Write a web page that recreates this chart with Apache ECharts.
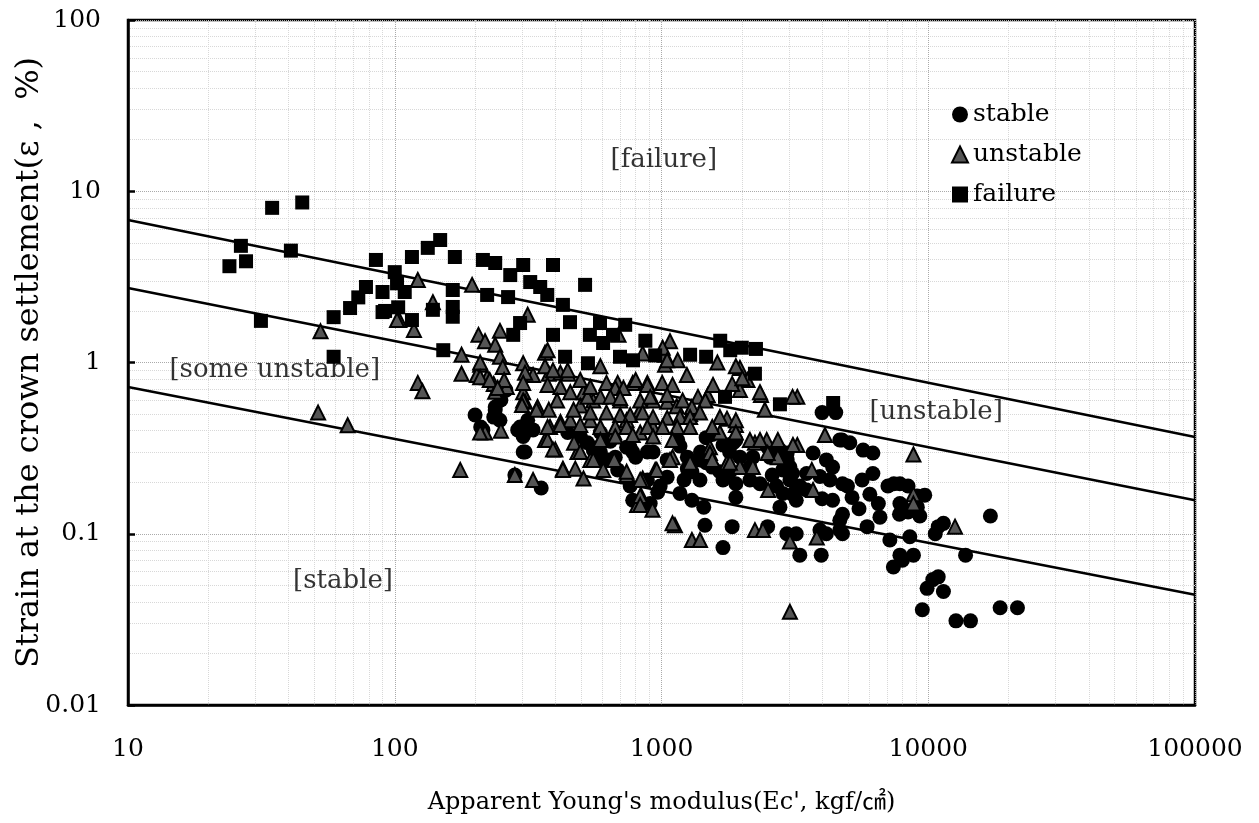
<!DOCTYPE html>
<html>
<head>
<meta charset="utf-8">
<script src="https://cdn.jsdelivr.net/npm/echarts@6/dist/echarts.min.js"></script>
<style>html,body{margin:0;padding:0;background:#fff;}#c{width:1259px;height:823px;}</style>
</head>
<body>
<div id="c"></div>
<script>
// ---- data ----
var failure = [
[24,3.65],[26.5,4.8],[27.7,3.9],[31.5,1.75],[34.7,8.0],[40.8,4.5],[45,8.6],[59,1.08],[59,1.84],[68,2.08],
[73,2.4],[78,2.76],[85,3.97],[90,1.97],[100,3.37],[116,4.13],[133,4.67],[148,5.19],[168,4.13],[102,2.9],
[90,2.58],[109,2.58],[92,2.0],[103,2.1],[116,1.77],[139,2.03],[165,2.65],[165,2.11],[165,1.85],[214,3.97],
[238,3.81],[271,3.24],[303,3.71],[392,3.71],[322,2.95],[351,2.76],[373,2.48],[222,2.48],[266,2.41],[517,2.84],
[427,2.17],[454,1.72],[295,1.70],[278,1.45],[392,1.45],[539,1.45],[588,1.70],[604,1.30],[658,1.45],[435,1.08],
[152,1.18],[699,1.08],[782,1.03],[530,0.99],[1660,1.34],[1280,1.11],[1470,1.08],[1810,1.18],[2000,1.22],[2260,1.2],
[2240,0.86],[1730,0.63],[2780,0.57],[4400,0.58],[870,1.34],[947,1.1],[731,1.66]
];
var unstable = [
[52.7,1.52],[51.6,0.51],[66.6,0.43],[104,1.77],[122,0.76],[127,0.68],[176,0.236],[282,0.22],[330,0.206],[427,0.24],
[475,0.24],[510,0.21],[218,0.39],[250,0.40],[303,0.67],[308,0.59],[343,0.55],[366,0.353],[400,0.31],[122,3.03],
[195,2.84],[139,2.25],[102,1.77],[118,1.55],[178,1.11],[178,0.86],[206,1.45],[218,1.33],[248,1.53],[238,1.27],
[315,1.9],[248,1.08],[254,0.94],[209,0.97],[203,0.845],[222,0.82],[235,0.75],[263,0.72],[238,0.675],[303,0.60],
[340,0.53],[366,1.14],[303,0.99],[330,0.845],[378,0.86],[418,0.87],[447,0.86],[374,0.74],[418,0.72],[455,0.67],
[406,0.60],[378,0.53],[418,0.45],[455,0.46],[382,0.42],[374,0.353],[392,0.31],[484,0.30],[510,0.67],[496,0.56],
[541,0.46],[555,0.60],[590,0.95],[622,0.76],[685,0.76],[780,0.76],[850,1.13],[885,0.76],[700,0.60],[740,0.46],
[832,0.53],[930,0.60],[665,0.39],[832,0.39],[930,0.42],[541,0.27],[665,0.27],[740,0.22],[850,0.21],[840,0.166],
[810,0.147],[925,0.138],[690,1.45],[1076,1.33],[1031,1.11],[1150,1.03],[1031,0.97],[1245,0.845],[885,0.74],[1006,0.76],
[1100,0.74],[1050,0.59],[1140,0.555],[1280,0.50],[1370,0.63],[1490,0.645],[1560,0.74],[1620,1.0],[1968,0.93],[2100,0.79],
[1968,0.69],[2360,0.645],[2440,0.53],[1760,0.47],[1900,0.432],[1656,0.39],[1519,0.32],[2240,0.34],[2480,0.353],[2730,0.353],
[3230,0.63],[3230,0.33],[4100,0.377],[2730,0.28],[1760,0.26],[1968,0.245],[2200,0.245],[3660,0.236],[3700,0.18],[2510,0.18],
[1280,0.26],[1100,0.28],[947,0.236],[850,0.206],[1123,0.112],[1300,0.092],[1394,0.092],[2240,0.105],[2400,0.105],[3030,0.09],
[3820,0.095],[3030,0.035],[8800,0.29],[8800,0.17],[8800,0.15],[12600,0.11],
[671,0.71],[720,0.71],[528,0.63],[590,0.63],[643,0.63],[700,0.62],[832,0.60],[907,0.63],[1050,0.645],[1200,0.60],
[1300,0.55],[1460,0.60],[1840,0.75],[2340,0.67],[3100,0.63],[468,0.53],[541,0.51],[622,0.51],[700,0.494],[763,0.494],
[850,0.51],[930,0.48],[1050,0.475],[1173,0.48],[1280,0.48],[1394,0.51],[1656,0.48],[1900,0.46],[374,0.42],[418,0.432],
[496,0.432],[590,0.42],[671,0.42],[740,0.42],[885,0.42],[1010,0.42],[1145,0.42],[1280,0.42],[1550,0.42],[1900,0.39],
[2145,0.353],[2340,0.353],[470,0.34],[590,0.353],[671,0.37],[780,0.377],[930,0.37],[1100,0.353],[1519,0.296],[496,0.30],
[555,0.27],[740,0.23],[832,0.206],[960,0.236],[1076,0.27],[1550,0.27],[1805,0.26],[2500,0.296],[3110,0.33],[427,0.236],
[605,0.236],[832,0.166],[832,0.147],[1100,0.115],[374,1.18],[209,1.0],[209,0.82],[227,0.79],[257,0.79],[243,0.71],
[308,0.87],[303,0.76],[300,0.565],[209,0.39],[366,0.95],[392,0.90],[445,0.90],[496,0.79],[541,0.72],[800,0.79],
[1010,1.22],[1050,1.03],[1900,0.95],[2010,0.81]
];
var stable = [
[200,0.494],[210,0.42],[238,0.528],[250,0.604],[261,0.69],[289,0.404],[308,0.39],[308,0.30],[282,0.22],[354,0.185],
[565,0.317],[630,0.27],[685,0.236],[214,0.404],[238,0.55],[248,0.46],[295,0.42],[315,0.46],[303,0.37],[303,0.30],
[445,0.39],[496,0.37],[555,0.308],[590,0.30],[671,0.28],[780,0.30],[885,0.30],[763,0.19],[968,0.175],[235,0.48],
[330,0.404],[763,0.32],[930,0.30],[1050,0.27],[1173,0.325],[1250,0.28],[1300,0.23],[1394,0.27],[1550,0.245],[1805,0.23],
[1968,0.28],[2145,0.245],[2550,0.28],[2850,0.236],[3030,0.206],[3200,0.18],[2700,0.19],[2340,0.196],[1900,0.196],[1656,0.23],
[1394,0.206],[1215,0.206],[1050,0.214],[885,0.206],[1173,0.172],[1300,0.157],[780,0.157],[907,0.15],[1440,0.143],[1455,0.112],
[1840,0.11],[2500,0.11],[2950,0.10],[1700,0.083],[1470,0.26],[1770,0.33],[1900,0.353],[2780,0.308],[643,0.347],[590,0.39],
[989,0.19],[1700,0.206],[1900,0.163],[2145,0.206],[2780,0.143],[2960,0.27],[3100,0.225],[3300,0.19],[3200,0.157],[2850,0.172],
[3200,0.10],[3300,0.075],[3970,0.075],[3925,0.105],[4150,0.10],[4660,0.105],[4770,0.13],[4980,0.19],[4380,0.157],[5180,0.163],
[6040,0.17],[6590,0.125],[6200,0.225],[7060,0.19],[7430,0.196],[7830,0.15],[8400,0.134],[4660,0.353],[5080,0.34],[5700,0.308],
[6200,0.296],[4380,0.245],[3925,0.216],[3700,0.296],[3030,0.245],[3500,0.225],[4150,0.27],[4280,0.206],[4770,0.196],[5650,0.206],
[7400,0.064],[8800,0.075],[8530,0.096],[7180,0.092],[4000,0.51],[4500,0.51],[4750,0.353],[17100,0.127],[8000,0.07],[10400,0.054],
[10900,0.056],[9900,0.048],[11400,0.046],[9500,0.036],[12700,0.031],[14400,0.031],[18600,0.037],[21600,0.037],[13800,0.075],[10900,0.11],
[11400,0.115],[8400,0.19],[9100,0.166],[8000,0.143],[9100,0.143],[7800,0.13],[9300,0.127],[5900,0.11],[4770,0.10],[4660,0.12],
[7830,0.196],[9700,0.168],[10620,0.10],[7830,0.075],[1150,0.353],[1470,0.364],[1860,0.34],[2960,0.296],
[740,0.32],[800,0.28],[1550,0.38],[1700,0.33],[1800,0.30],[2500,0.32],[2900,0.24],[3100,0.17],[528,0.34],[590,0.27],
[1250,0.24],[1400,0.30],[2200,0.28],[2600,0.22],[3500,0.18],[4000,0.16],[5500,0.14],[6500,0.15]
];
var boundaryFailure = [[10,6.8],[100000,0.367]];
var boundaryUnstable = [[10,2.72],[100000,0.157]];
var boundaryStable = [[10,0.72],[100000,0.044]];
var regionLabels = [
  {name:'[failure]', value:[1020,15.2]},
  {name:'[some unstable]', value:[35.5,0.9]},
  {name:'[unstable]', value:[10700,0.51]},
  {name:'[stable]', value:[64,0.053]}
];
var xTicks = [10,100,1000,10000,100000];
var yTicks = [0.01,0.1,1,10,100];

var FONT = 'DejaVu Serif';
function fmt(v){ return String(+(+v).toPrecision(6)); }
var chart = echarts.init(document.getElementById('c'));
var lineStyle = {color:'#000', width:2.5};
chart.setOption({
  backgroundColor:'#fff',
  animation:false,
  grid:{left:128, right:64, top:20, bottom:118, outerBoundsMode:'none', containLabel:false,
        show:true, borderColor:'#000', borderWidth:2.5, backgroundColor:'transparent'},
  legend:{
    orient:'vertical', left:946, top:97, itemWidth:16, itemHeight:16, itemGap:15,
    textStyle:{fontFamily:FONT, fontSize:25, color:'#000'},
    data:[
      {name:'stable', icon:'circle', itemStyle:{color:'#000'}},
      {name:'unstable', icon:'triangle', itemStyle:{color:'#555', borderColor:'#000', borderWidth:2}},
      {name:'failure', icon:'rect', itemStyle:{color:'#000'}}
    ]
  },
  xAxis:{
    type:'log', min:xTicks[0], max:xTicks[xTicks.length-1], logBase:10,
    name:"Apparent Young's modulus(Ec', kgf/\u33A0)", nameLocation:'middle', nameGap:86, nameMoveOverlap:false,
    nameTextStyle:{fontFamily:FONT+', Noto Sans CJK KR', fontSize:24, color:'#000'},
    axisLine:{show:true, lineStyle:{color:'#000', width:2.5}},
    axisTick:{show:false},
    axisLabel:{fontFamily:FONT, fontSize:25, color:'#000', margin:32, formatter:fmt},
    splitLine:{show:true, lineStyle:{color:'#aaa', type:'dotted', width:1}},
    minorTick:{show:false, splitNumber:9},
    minorSplitLine:{show:true, lineStyle:{color:'#d8d8d8', type:'dotted', width:1}}
  },
  yAxis:{
    type:'log', min:yTicks[0], max:yTicks[yTicks.length-1], logBase:10,
    name:'Strain at the crown settlement(\u03B5 ,  %)', nameLocation:'middle', nameGap:82, nameMoveOverlap:false,
    nameTextStyle:{fontFamily:FONT, fontSize:32, color:'#000'},
    axisLine:{show:true, lineStyle:{color:'#000', width:2.5}},
    axisTick:{show:true, inside:true, length:7, lineStyle:{color:'#000', width:2.5}},
    axisLabel:{fontFamily:FONT, fontSize:25, color:'#000', margin:27, formatter:fmt},
    splitLine:{show:true, lineStyle:{color:'#aaa', type:'dotted', width:1}},
    minorTick:{show:false, splitNumber:9},
    minorSplitLine:{show:true, lineStyle:{color:'#d8d8d8', type:'dotted', width:1}}
  },
  series:[
    {type:'line', data:boundaryFailure, symbol:'none', lineStyle:lineStyle, silent:true, z:1},
    {type:'line', data:boundaryUnstable, symbol:'none', lineStyle:lineStyle, silent:true, z:1},
    {type:'line', data:boundaryStable, symbol:'none', lineStyle:lineStyle, silent:true, z:1},
    {name:'stable', type:'scatter', data:stable, symbol:'circle', symbolSize:15, itemStyle:{color:'#000', opacity:1}, z:3},
    {name:'unstable', type:'scatter', data:unstable, symbol:'triangle', symbolSize:14, itemStyle:{color:'#555', borderColor:'#000', borderWidth:2, opacity:1}, z:4},
    {name:'failure', type:'scatter', data:failure, symbol:'rect', symbolSize:14, itemStyle:{color:'#000', opacity:1}, z:5},
    {type:'scatter', data:regionLabels, symbolSize:1, itemStyle:{color:'transparent'}, silent:true, z:6,
      label:{show:true, position:'inside', formatter:function(p){return p.name;}, fontFamily:FONT, fontSize:26, color:'#000'}}
  ]
});
</script>
</body>
</html>
